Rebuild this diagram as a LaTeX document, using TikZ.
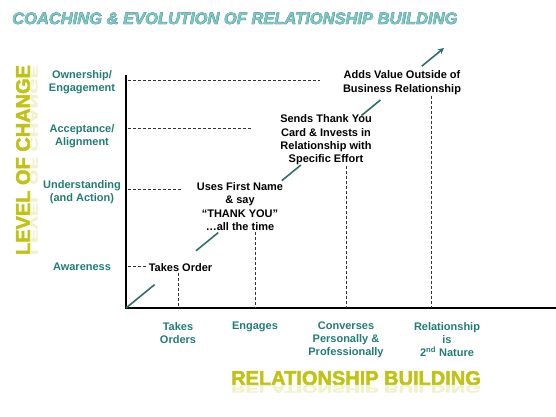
\documentclass[tikz,border=0pt]{standalone}
\usepackage{fontspec}
\setmainfont{Liberation Sans}
\newfontfamily\heavysans{Liberation Sans Bold}[FakeBold=2.5]
\newfontfamily\titleline{Liberation Sans Bold Italic}[FakeBold=2.5]
\newfontfamily\titlefont{Liberation Sans Bold Italic}
\usetikzlibrary{arrows.meta, calc}
\definecolor{labelteal}{HTML}{217C76}
\definecolor{titleteal}{HTML}{7CC8C6}
\definecolor{titleshade}{HTML}{3C8484}
\definecolor{trendteal}{HTML}{2F6F6B}
\definecolor{headyellow}{HTML}{C2C214}
\definecolor{mirroryellow}{HTML}{F1F1CC}

\begin{document}
\begin{tikzpicture}[
    x=1pt, y=-1pt,
    lvl/.style={font=\bfseries\fontsize{11}{13}\selectfont, text=labelteal,
                align=center, inner sep=0pt},
    stage/.style={font=\bfseries\fontsize{11}{13.4}\selectfont,
                  align=center, inner sep=1pt},
    axis/.style={line width=2.2pt, black},
    guide/.style={dash pattern=on 3pt off 2pt, line width=0.8pt, black!80},
    trend/.style={draw=trendteal, line width=1.6pt},
    bigword/.style={font=\heavysans\fontsize{20}{24}\selectfont,
                    text=headyellow, inner sep=0pt},
    headline/.style={anchor=base west, inner sep=0pt},
]

\useasboundingbox (0,0) rectangle (556,416);

% === Title ===
\node[headline, text=titleshade, font=\titleline\fontsize{16.5}{20}\selectfont]
  (titleback) at (12,24) {COACHING \& EVOLUTION OF RELATIONSHIP BUILDING};
\node[headline, text=titleteal, font=\titlefont\fontsize{16.5}{20}\selectfont]
  (title) at (12,24) {COACHING \& EVOLUTION OF RELATIONSHIP BUILDING};

% === Axes ===
\coordinate (o) at (126,308);
\coordinate (ytop) at (126,75);
\coordinate (xend) at (556,308);
\draw[axis] (ytop) -- (o) -- (xend);

% === Level labels ===
\node[lvl] (own) at (82,82.5) {Ownership/\\Engagement};
\node[lvl] (accept) at (82,136.5) {Acceptance/\\Alignment};
\node[lvl] (underst) at (82,192) {Understanding\\(and Action)};
\node[lvl] (aware) at (82,267) {Awareness};

% === Stage labels ===
\node[lvl, anchor=north] (xorders) at (178,322) {Takes\\Orders};
\node[lvl, anchor=north] (xengage) at (255,322) {Engages};
\node[lvl, anchor=north] (xconverse) at (346,322)
  {Converses\\Personally \&\\Professionally};
\node[lvl, anchor=north] (xnature) at (447,322)
  {Relationship\\is\\2\textsuperscript{nd} Nature};

% === Steps along the trend ===
\node[stage] (takes) at (180.5,268) {Takes Order};
\node[stage] (first) at (240,206.5)
  {Uses First Name\\\& say\\“THANK YOU”\\…all the time};
\node[stage] (sends) at (326,140)
  {Sends Thank You\\Card \& Invests in\\Relationship with\\Specific Effort};
\node[stage] (adds) at (402,82.5)
  {Adds Value Outside of\\Business Relationship};

% === Guides ===
\coordinate (gown) at (128,80);
\coordinate (gaccept) at (128,128);
\coordinate (gunderst) at (128,189);
\coordinate (gaware) at (128,266);
\draw[guide, shorten >=22pt] (gown) -- (gown -| adds.west);
\draw[guide, shorten >=28pt] (gaccept) -- (gaccept -| sends.west);
\draw[guide, shorten >=13pt] (gunderst) -- (gunderst -| first.west);
\draw[guide, shorten >=2pt] (gaware) -- (gaware -| takes.west);

\draw[guide] (xorders |- takes.south) -- (xorders |- o);
\draw[guide] (xengage |- first.south) -- (xengage |- o);
\draw[guide] (xconverse |- sends.south) -- (xconverse |- o);
\draw[guide] ([xshift=-16pt]xnature.north |- adds.south) -- ([xshift=-16pt]xnature.north |- o);

% === Trend arrow ===
\coordinate (tip) at (444,48);
\foreach \a/\b in {0/0.09, 0.22/0.29, 0.49/0.55, 0.74/0.80}
  \draw[trend] ($(o)!\a!(tip)$) -- ($(o)!\b!(tip)$);
\draw[trend, -{Stealth[length=6pt, width=6pt]}] ($(o)!0.93!(tip)$) -- (tip);

% === Axis titles ===
\node[bigword, anchor=base] (relb) at (356,385) {RELATIONSHIP BUILDING};
\begin{scope}[shift={(relb.base)}, yscale=-0.55]
  \node[bigword, text=mirroryellow, anchor=base, transform shape]
    (relbmirror) at (0,0) {RELATIONSHIP BUILDING};
\end{scope}

\node[bigword, rotate=90, anchor=base] (lvlchange) at (30,160) {LEVEL OF CHANGE};
\begin{scope}[shift={(lvlchange.base)}, rotate=90, yscale=-0.55]
  \node[bigword, text=mirroryellow, anchor=base, transform shape]
    (lvlmirror) at (0,0) {LEVEL OF CHANGE};
\end{scope}

\end{tikzpicture}
\end{document}
